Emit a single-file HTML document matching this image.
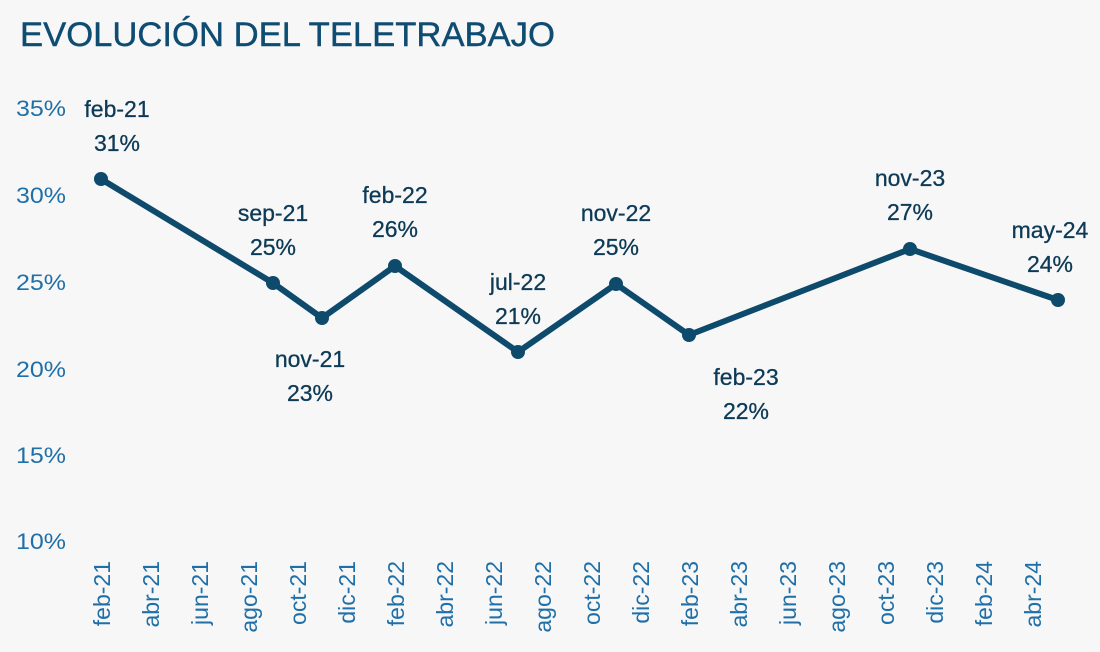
<!DOCTYPE html>
<html><head><meta charset="utf-8"><style>
html,body{margin:0;padding:0;background:#f7f7f7;}
svg{display:block;font-family:"Liberation Sans",sans-serif;}
</style></head><body>
<svg width="1100" height="652" viewBox="0 0 1100 652">
<rect width="1100" height="652" fill="#f7f7f7"/>
<text x="20" y="46" font-size="34" fill="#0f4c72" textLength="535" lengthAdjust="spacingAndGlyphs" stroke="#0f4c72" stroke-width="0.4">EVOLUCIÓN DEL TELETRABAJO</text>
<g font-size="22" fill="#1f6fa8" text-anchor="end">
<text x="66" y="116" textLength="50" lengthAdjust="spacingAndGlyphs">35%</text>
<text x="66" y="203" textLength="50" lengthAdjust="spacingAndGlyphs">30%</text>
<text x="66" y="290" textLength="50" lengthAdjust="spacingAndGlyphs">25%</text>
<text x="66" y="377" textLength="50" lengthAdjust="spacingAndGlyphs">20%</text>
<text x="66" y="463" textLength="50" lengthAdjust="spacingAndGlyphs">15%</text>
<text x="66" y="549" textLength="50" lengthAdjust="spacingAndGlyphs">10%</text>
</g>
<g font-size="23" fill="#1f6fa8" text-anchor="end">
<text transform="translate(110,561) rotate(-90)">feb-21</text>
<text transform="translate(159,561) rotate(-90)">abr-21</text>
<text transform="translate(208,561) rotate(-90)">jun-21</text>
<text transform="translate(257,561) rotate(-90)">ago-21</text>
<text transform="translate(306,561) rotate(-90)">oct-21</text>
<text transform="translate(355,561) rotate(-90)">dic-21</text>
<text transform="translate(404,561) rotate(-90)">feb-22</text>
<text transform="translate(453,561) rotate(-90)">abr-22</text>
<text transform="translate(502,561) rotate(-90)">jun-22</text>
<text transform="translate(551,561) rotate(-90)">ago-22</text>
<text transform="translate(600,561) rotate(-90)">oct-22</text>
<text transform="translate(649,561) rotate(-90)">dic-22</text>
<text transform="translate(698,561) rotate(-90)">feb-23</text>
<text transform="translate(747,561) rotate(-90)">abr-23</text>
<text transform="translate(796,561) rotate(-90)">jun-23</text>
<text transform="translate(845,561) rotate(-90)">ago-23</text>
<text transform="translate(894,561) rotate(-90)">oct-23</text>
<text transform="translate(943,561) rotate(-90)">dic-23</text>
<text transform="translate(992,561) rotate(-90)">feb-24</text>
<text transform="translate(1041,561) rotate(-90)">abr-24</text>
</g>
<polyline points="101,179 273,283 322,318 395,266 518,352 616,284 689,335 910,249 1058,300" fill="none" stroke="#0d4a6b" stroke-width="6" stroke-linejoin="round"/>
<g fill="#0d4a6b">
<circle cx="101" cy="179" r="7"/><circle cx="273" cy="283" r="7"/><circle cx="322" cy="318" r="7"/>
<circle cx="395" cy="266" r="7"/><circle cx="518" cy="352" r="7"/><circle cx="616" cy="284" r="7"/>
<circle cx="689" cy="335" r="7"/><circle cx="910" cy="249" r="7"/><circle cx="1058" cy="300" r="7"/>
</g>
<g font-size="23" fill="#0d3a56" text-anchor="middle" stroke="#0d3a56" stroke-width="0.3">
<text x="117" y="117">feb-21</text><text x="117" y="151">31%</text>
<text x="273" y="221">sep-21</text><text x="273" y="255">25%</text>
<text x="310" y="367">nov-21</text><text x="310" y="401">23%</text>
<text x="395" y="203">feb-22</text><text x="395" y="237">26%</text>
<text x="518" y="290">jul-22</text><text x="518" y="324">21%</text>
<text x="616" y="221">nov-22</text><text x="616" y="255">25%</text>
<text x="746" y="385">feb-23</text><text x="746" y="419">22%</text>
<text x="910" y="186">nov-23</text><text x="910" y="220">27%</text>
<text x="1050" y="238">may-24</text><text x="1050" y="272">24%</text>
</g>
</svg>
</body></html>
